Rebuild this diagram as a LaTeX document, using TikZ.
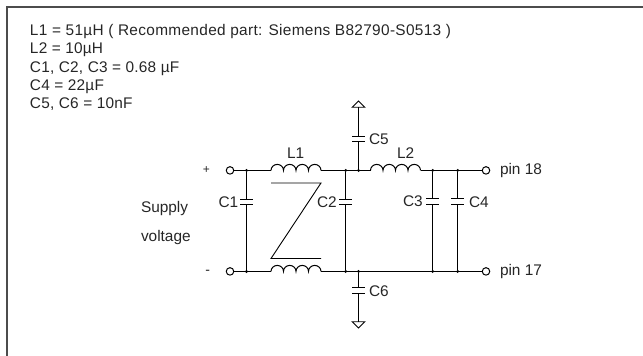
\documentclass[tikz,border=0pt]{standalone}
\usepackage{fontspec}
\setmainfont{Liberation Sans}
\newfontfamily\headfont[LetterSpace=1.4]{Liberation Sans}
\newfontfamily\firstfont[LetterSpace=2.1]{Liberation Sans}
\tikzset{
  x=1pt,y=-1pt,
  wire/.style={line width=1pt,draw=black},
  label/.style={inner sep=0pt,outer sep=0pt,anchor=base west,text=black!85,font=\fontsize{15.4}{18}\selectfont},
  term/.style={circle,draw=black,fill=white,line width=1pt,minimum size=7.5pt,inner sep=0pt},
  junction/.style={circle,fill=black,minimum size=3.2pt,inner sep=0pt},
  plate/.style={line width=1pt,draw=black,line cap=butt},
  frameline/.style={line width=1.7pt,draw=black!70},
  gnd/.style={line width=0.8pt,draw=black,fill=white,line join=miter}
}
\newcommand{\coil}[3]{% name, x, y
  \coordinate (#1a) at (#2,#3);
  \coordinate (#1b) at ({#2+50},#3);
  \draw[wire] (#1a) arc[start angle=180,end angle=0,x radius=6.25,y radius=-6]
    arc[start angle=180,end angle=0,x radius=6.25,y radius=-6]
    arc[start angle=180,end angle=0,x radius=6.25,y radius=-6]
    arc[start angle=180,end angle=0,x radius=6.25,y radius=-6];
}
\newcommand{\capac}[3]{% name, x, ycentre
  \coordinate (#1t) at (#2,{#3-2.9});
  \coordinate (#1b) at (#2,{#3+2.9});
  \draw[plate] ({#2-6.3},{#3-2.9}) -- ({#2+6.3},{#3-2.9});
  \draw[plate] ({#2-6.3},{#3+2.9}) -- ({#2+6.3},{#3+2.9});
}
\begin{document}
\begin{tikzpicture}
\useasboundingbox (0,0) rectangle (643,356);
\draw[frameline] (6.7,356) -- (6.7,6.7) -- (643,6.7);

\node[label,font=\fontsize{15.4}{18}\firstfont] (t1) at (30,35) {L1 = 51µH ( Recommended part: Siemens B82790-S0513 )};
\node[label,font=\fontsize{15.4}{18}\headfont] (t2) at (30,53.4) {L2 = 10µH};
\node[label,font=\fontsize{15.4}{18}\headfont] (t3) at (30,72) {C1, C2, C3 = 0.68 µF};
\node[label,font=\fontsize{15.4}{18}\headfont] (t4) at (30,90.5) {C4 = 22µF};
\node[label,font=\fontsize{15.4}{18}\headfont] (t5) at (30,108.7) {C5, C6 = 10nF};

\node[label] (sup) at (141,212) {Supply};
\node[label] (vol) at (141,241.7) {voltage};
\node[label,anchor=center,font=\fontsize{12}{13}\selectfont] (plus) at (206.3,170) {+};
\node[label,anchor=center,font=\fontsize{14}{15}\selectfont] (minus) at (207.8,272.5) {-};

% terminals
\node[term] (inp) at (230,170.4) {};
\node[term] (inn) at (230,271.4) {};
\node[term] (outp) at (486,170.4) {};
\node[term] (outn) at (486,271.4) {};

% junctions
\node[junction] (j1t) at (246.5,170.4) {};
\node[junction] (j1b) at (246.5,271.4) {};
\node[junction] (j2t) at (345.7,170.4) {};
\node[junction] (j2b) at (345.7,271.4) {};
\node[junction] (j5) at (358.5,170.4) {};
\node[junction] (j6) at (358.5,271.4) {};
\node[junction] (j3t) at (432.7,170.4) {};
\node[junction] (j3b) at (432.7,271.4) {};
\node[junction] (j4t) at (457.7,170.4) {};
\node[junction] (j4b) at (457.7,271.4) {};

% inductors
\coil{Lone}{271}{170.4}
\coil{Lbot}{271}{271.4}
\coil{Ltwo}{370.5}{170.4}

% capacitors
\capac{Cone}{246.5}{202}
\capac{Ctwo}{345.7}{202}
\capac{Cthr}{432.7}{201.2}
\capac{Cfou}{457.7}{201.2}
\capac{Cfiv}{358.5}{139}
\capac{Csix}{358.5}{290.2}

% rails
\draw[wire] (inp) -- (Lonea);
\draw[wire] (Loneb) -- (Ltwoa);
\draw[wire] (Ltwob) -- (outp);
\draw[wire] (inn) -- (Lbota);
\draw[wire] (Lbotb) -- (outn);

% capacitor leads
\draw[wire] (j1t) -- (Conet);
\draw[wire] (Coneb) -- (j1b);
\draw[wire] (j2t) -- (Ctwot);
\draw[wire] (Ctwob) -- (j2b);
\draw[wire] (j3t) -- (Cthrt);
\draw[wire] (Cthrb) -- (j3b);
\draw[wire] (j4t) -- (Cfout);
\draw[wire] (Cfoub) -- (j4b);
\draw[wire] (j5) -- (Cfivb);
\draw[wire] (j6) -- (Csixt);

% supply and ground symbols
\coordinate (vcc) at (358.5,107.3);
\coordinate (gnd) at (358.5,321.7);
\draw[gnd] (352.2,107.3) -- (358.5,101) -- (364.8,107.3) -- cycle;
\draw[gnd] (352.2,321.7) -- (358.5,328) -- (364.8,321.7) -- cycle;
\draw[wire] (vcc) -- (Cfivt);
\draw[wire] (Csixb) -- (gnd);

% common-mode mark
\draw[wire,line width=0.9pt,line join=miter] (271,183) -- (321,183) -- (271,258.5) -- (321,258.5);

% component labels
\node[label] (lL1) at (287,158) {L1};
\node[label] (lL2) at (397,158) {L2};
\node[label] (lC1) at (218.5,207) {C1};
\node[label] (lC2) at (317,207) {C2};
\node[label] (lC3) at (403,206) {C3};
\node[label] (lC4) at (469,207) {C4};
\node[label] (lC5) at (369,144) {C5};
\node[label] (lC6) at (369,296) {C6};
\node[label] (p18) at (500,174.5) {pin 18};
\node[label] (p17) at (500,275) {pin 17};
\end{tikzpicture}
\end{document}
